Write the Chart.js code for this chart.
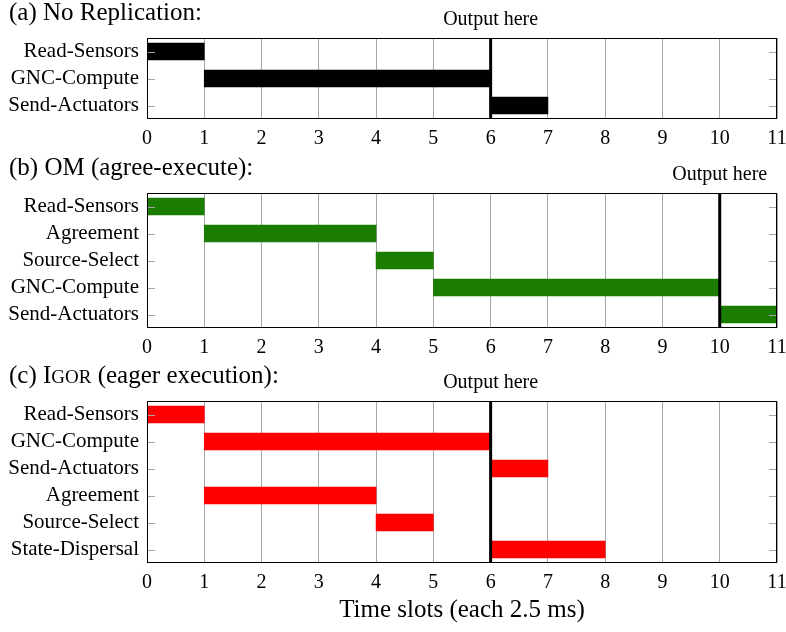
<!DOCTYPE html>
<html>
<head>
<meta charset="utf-8">
<script src="https://cdn.jsdelivr.net/npm/chart.js@4.4.1/dist/chart.umd.min.js"></script>
<style>
  html, body { margin: 0; padding: 0; background: #fff; }
  body { width: 786px; height: 632px; position: relative; overflow: hidden; }
  .panel { position: absolute; left: 0; width: 786px; }
</style>
</head>
<body>
<div class="panel" style="top:0;height:150px"><canvas id="chartA"></canvas></div>
<div class="panel" style="top:150px;height:210px"><canvas id="chartB"></canvas></div>
<div class="panel" style="top:360px;height:272px"><canvas id="chartC"></canvas></div>
<script>
// Time axis (slots of 2.5 ms)
const slotMin = 0;
const slotMax = 11;

// (a) No replication
const tasksA = ['Read-Sensors', 'GNC-Compute', 'Send-Actuators'];
const startA = [0, 1, 6];
const endA   = [1, 6, 7];
const outputA = 6;

// (b) OM, agree then execute
const tasksB = ['Read-Sensors', 'Agreement', 'Source-Select', 'GNC-Compute', 'Send-Actuators'];
const startB = [0, 1, 4, 5, 10];
const endB   = [1, 4, 5, 10, 11];
const outputB = 10;

// (c) IGOR, eager execution
const tasksC = ['Read-Sensors', 'GNC-Compute', 'Send-Actuators', 'Agreement', 'Source-Select', 'State-Dispersal'];
const startC = [0, 1, 6, 1, 4, 6];
const endC   = [1, 6, 7, 4, 5, 8];
const outputC = 6;

const SERIF = "'Liberation Serif', 'Times New Roman', serif";

// Frame, inner ticks, output marker, panel title and axis title
const decorations = {
  id: 'decorations',
  afterDatasetsDraw(chart, args, opts) {
    const { ctx, chartArea: a, scales } = chart;
    const x = scales.x, y = scales.y;
    ctx.save();

    // inner tick marks on both vertical sides
    ctx.strokeStyle = '#a6a6a6';
    ctx.lineWidth = 1;
    y.ticks.forEach((t, i) => {
      const py = Math.round(y.getPixelForTick(i)) + 0.5;
      ctx.beginPath();
      ctx.moveTo(a.left, py); ctx.lineTo(a.left + 8, py);
      ctx.moveTo(a.right - 8, py); ctx.lineTo(a.right, py);
      ctx.stroke();
    });

    // output marker line
    const ox = x.getPixelForValue(opts.output);
    ctx.strokeStyle = '#000';
    ctx.lineWidth = 3;
    ctx.beginPath();
    ctx.moveTo(ox, a.top); ctx.lineTo(ox, a.bottom);
    ctx.stroke();

    // plot frame
    ctx.lineWidth = 1;
    ctx.strokeRect(Math.round(a.left) + 0.5, Math.round(a.top) + 0.5,
                   Math.round(a.right - a.left) - 1, Math.round(a.bottom - a.top) - 1);

    ctx.fillStyle = '#000';
    ctx.textBaseline = 'alphabetic';

    // "Output here" label
    ctx.font = '20px ' + SERIF;
    ctx.textAlign = 'center';
    ctx.fillText('Output here', ox, a.top - 13);

    // panel title (segments allow small caps)
    ctx.textAlign = 'left';
    let tx = 9;
    opts.title.forEach(seg => {
      ctx.font = seg.size + 'px ' + SERIF;
      ctx.fillText(seg.text, tx, a.top - 18);
      tx += ctx.measureText(seg.text).width;
    });

    // shared axis title
    if (opts.axisTitle) {
      ctx.font = '25px ' + SERIF;
      ctx.textAlign = 'center';
      ctx.fillText(opts.axisTitle, (a.left + a.right) / 2, a.bottom + 54);
    }
    ctx.restore();
  }
};

function gantt(id, tasks, starts, ends, color, output, title, topPad, axisHeight, axisTitle) {
  new Chart(document.getElementById(id), {
    type: 'bar',
    data: {
      labels: tasks,
      datasets: [{
        data: tasks.map((_, i) => [starts[i], ends[i]]),
        backgroundColor: color,
        borderWidth: 0,
        borderSkipped: false,
        barThickness: 17
      }]
    },
    options: {
      indexAxis: 'y',
      responsive: true,
      maintainAspectRatio: false,
      animation: false,
      devicePixelRatio: 1,
      layout: { padding: { top: topPad, right: 9, left: 0, bottom: 0 } },
      plugins: {
        legend: { display: false },
        tooltip: { enabled: false },
        decorations: { output, title, axisTitle }
      },
      scales: {
        x: {
          type: 'linear',
          min: slotMin,
          max: slotMax,
          grid: { color: '#a6a6a6', lineWidth: 1, drawTicks: false },
          border: { display: false },
          ticks: {
            stepSize: 1,
            color: '#000',
            padding: 8,
            maxRotation: 0,
            font: { family: SERIF, size: 20 }
          },
          afterFit(scale) {
            scale.height = axisHeight;
            scale.paddingLeft = 0;
            scale.paddingRight = 0;
          }
        },
        y: {
          type: 'category',
          grid: { display: false, drawTicks: false },
          border: { display: false },
          ticks: {
            autoSkip: false,
            color: '#000',
            padding: 8,
            font: { family: SERIF, size: 21 }
          },
          afterFit(scale) { scale.width = 147; }
        }
      }
    },
    plugins: [decorations]
  });
}

gantt('chartA', tasksA, startA, endA, '#000000', outputA,
      [{ text: '(a) No Replication:', size: 25 }], 38, 31);
gantt('chartB', tasksB, startB, endB, '#1a7d00', outputB,
      [{ text: '(b) OM (agree-execute):', size: 25 }], 43, 32);
gantt('chartC', tasksC, startC, endC, '#ff0000', outputC,
      [{ text: '(c) I', size: 25 }, { text: 'GOR', size: 19 }, { text: ' (eager execution):', size: 25 }],
      41, 69, 'Time slots (each 2.5 ms)');
</script>
</body>
</html>
